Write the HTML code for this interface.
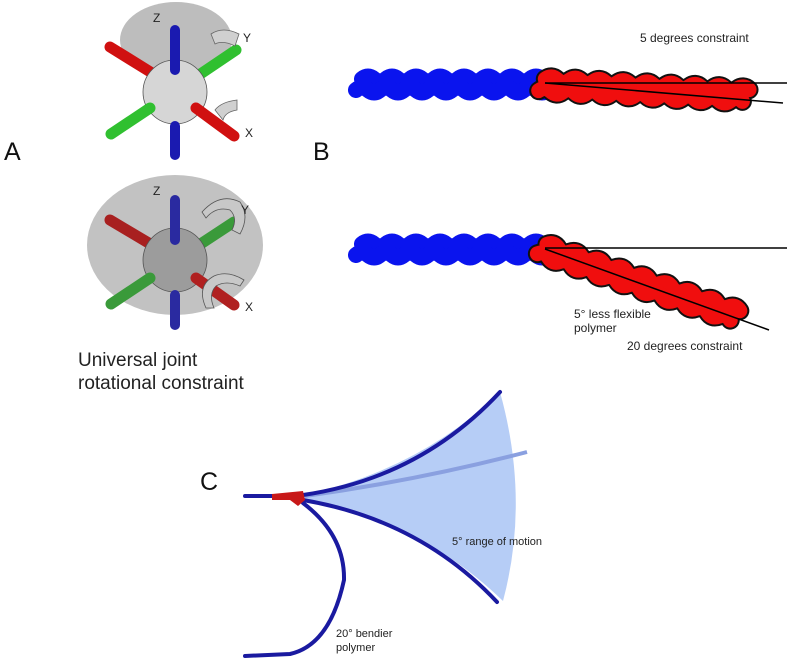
<!DOCTYPE html>
<html><head><meta charset="utf-8"><style>
html,body{margin:0;padding:0;background:#fff;}
svg{display:block;font-family:"Liberation Sans","DejaVu Sans",sans-serif;}
</style></head><body>
<svg width="787" height="664" viewBox="0 0 787 664" xmlns="http://www.w3.org/2000/svg">
<defs>
<path id="wave" d="M0,0 q6,-5 12,0 t12,0 t12,0 t12,0 t12,0 t12,0 t12,0 t12,0 t12,0 t12,0 t12,0 t12,0 t12,0 t12,0 t12,0 t12,0"/>
<path id="wred" d="M0,0 q6,-5 12,0 t12,0 t12,0 t12,0 t12,0 t12,0 t12,0 t12,0 t12,0 t12,0 t12,0 t12,0 t12,0 t12,0 t12,0 t12,0 t12,0"/>
</defs>
<!-- Panel A top -->
<ellipse cx="176" cy="40" rx="56" ry="38" fill="#bdbdbd"/>
<g stroke-linecap="round">
<line x1="110" y1="47" x2="152" y2="73" stroke="#d01010" stroke-width="11"/>
<line x1="196" y1="77" x2="236" y2="50" stroke="#30c030" stroke-width="11"/>
</g>
<circle cx="175" cy="92" r="32" fill="#d6d6d6" stroke="#555" stroke-width="0.8"/>
<g stroke-linecap="round">
<line x1="175" y1="30" x2="175" y2="70" stroke="#1a1ab0" stroke-width="10"/>
<line x1="175" y1="126" x2="175" y2="155" stroke="#1a1ab0" stroke-width="10"/>
<line x1="150" y1="108" x2="111" y2="134" stroke="#30c030" stroke-width="11"/>
<line x1="196" y1="108" x2="234" y2="136" stroke="#d01010" stroke-width="11"/>
</g>
<path d="M211,34 q12,-8 28,0 l-4,12 q-12,-6 -20,-2z" fill="#d0d0d0" stroke="#666" stroke-width="0.8"/>
<path d="M215,110 q6,-8 22,-10 l0,10 q-12,2 -14,10z" fill="#d0d0d0" stroke="#666" stroke-width="0.8"/>
<text x="153" y="22" font-size="12" fill="#222">Z</text>
<text x="243" y="42" font-size="12" fill="#222">Y</text>
<text x="245" y="137" font-size="12" fill="#222">X</text>
<!-- Panel A bottom -->
<ellipse cx="175" cy="245" rx="88" ry="70" fill="#c2c2c2"/>
<g stroke-linecap="round">
<line x1="110" y1="220" x2="152" y2="245" stroke="#a82020" stroke-width="11"/>
<line x1="196" y1="247" x2="234" y2="222" stroke="#3a9a3a" stroke-width="11"/>
</g>
<circle cx="175" cy="260" r="32" fill="#9c9c9c" stroke="#555" stroke-width="0.8"/>
<g stroke-linecap="round">
<line x1="175" y1="200" x2="175" y2="240" stroke="#2a2aa0" stroke-width="10"/>
<line x1="175" y1="295" x2="175" y2="325" stroke="#2a2aa0" stroke-width="10"/>
<line x1="150" y1="278" x2="111" y2="304" stroke="#3a9a3a" stroke-width="11"/>
<line x1="196" y1="278" x2="234" y2="305" stroke="#b02020" stroke-width="11"/>
</g>
<path d="M202,212 q18,-20 38,-10 q10,14 0,32 l-8,-4 q6,-12 -2,-20 q-14,-4 -24,8z" fill="#c8c8c8" stroke="#555" stroke-width="0.8"/>
<path d="M206,308 q-10,-22 8,-32 q14,-6 30,4 l-4,6 q-14,-6 -24,0 q-8,8 -2,22z" fill="#c8c8c8" stroke="#555" stroke-width="0.8"/>
<text x="153" y="195" font-size="12" fill="#222">Z</text>
<text x="241" y="214" font-size="12" fill="#222">Y</text>
<text x="245" y="311" font-size="12" fill="#222">X</text>
<text x="4" y="160" font-size="25" fill="#111">A</text>
<text x="313" y="160" font-size="25" fill="#111">B</text>
<text x="200" y="490" font-size="25" fill="#111">C</text>
<text x="78" y="366" font-size="19" fill="#222">Universal joint</text>
<text x="78" y="389" font-size="19" fill="#222">rotational constraint</text>
<!-- Panel B top -->
<g fill="none" stroke-linecap="round" stroke-linejoin="round">
<use href="#wave" transform="translate(362,79)" stroke="#0a14ee" stroke-width="16"/>
<use href="#wave" transform="translate(356,90)" stroke="#0a14ee" stroke-width="16"/>
<g transform="translate(545,85) rotate(3)">
<use href="#wred" transform="translate(0,-6)" stroke="#111" stroke-width="19"/>
<use href="#wred" transform="translate(-6,6)" stroke="#111" stroke-width="19"/>
<use href="#wred" transform="translate(0,-6)" stroke="#f00e0e" stroke-width="15"/>
<use href="#wred" transform="translate(-6,6)" stroke="#f00e0e" stroke-width="15"/>
</g>
</g>
<line x1="545" y1="83" x2="787" y2="83" stroke="#000" stroke-width="1.5"/>
<line x1="545" y1="83" x2="783" y2="103" stroke="#000" stroke-width="1.5"/>
<text x="640" y="42" font-size="12" fill="#222">5 degrees constraint</text>
<!-- Panel B bottom -->
<g fill="none" stroke-linecap="round" stroke-linejoin="round">
<use href="#wave" transform="translate(362,244)" stroke="#0a14ee" stroke-width="16"/>
<use href="#wave" transform="translate(356,255)" stroke="#0a14ee" stroke-width="16"/>
<g transform="translate(545,250) rotate(19)">
<use href="#wred" transform="translate(0,-6)" stroke="#111" stroke-width="19"/>
<use href="#wred" transform="translate(-6,6)" stroke="#111" stroke-width="19"/>
<use href="#wred" transform="translate(0,-6)" stroke="#f00e0e" stroke-width="15"/>
<use href="#wred" transform="translate(-6,6)" stroke="#f00e0e" stroke-width="15"/>
</g>
</g>
<line x1="545" y1="248" x2="787" y2="248" stroke="#000" stroke-width="1.5"/>
<line x1="545" y1="249" x2="769" y2="330" stroke="#000" stroke-width="1.5"/>
<text x="574" y="318" font-size="12" fill="#222">5° less flexible</text>
<text x="574" y="332" font-size="12" fill="#222">polymer</text>
<text x="627" y="350" font-size="12" fill="#222">20 degrees constraint</text>
<!-- Panel C -->
<path d="M300,496 Q420,470 500,392 Q530,500 503,601 Q420,520 300,500Z" fill="#a9c4f5" opacity="0.85"/>
<path d="M305,496 Q420,480 527,452" fill="none" stroke="#8aa0e0" stroke-width="4"/>
<g fill="none" stroke="#1a1aa0" stroke-width="4" stroke-linecap="round">
<path d="M245,496 L300,496"/>
<path d="M303,495 Q420,478 500,392"/>
<path d="M303,500 Q420,520 497,602"/>
<path d="M303,503 Q345,535 344,580 Q330,645 290,654 L245,656"/>
</g>
<path d="M272,494 L303,491 L305,500 L298,506 L290,500 L272,500Z" fill="#c81818"/>
<text x="452" y="545" font-size="11" fill="#222">5° range of motion</text>
<text x="336" y="637" font-size="11" fill="#222">20° bendier</text>
<text x="336" y="651" font-size="11" fill="#222">polymer</text>
</svg>
</body></html>
